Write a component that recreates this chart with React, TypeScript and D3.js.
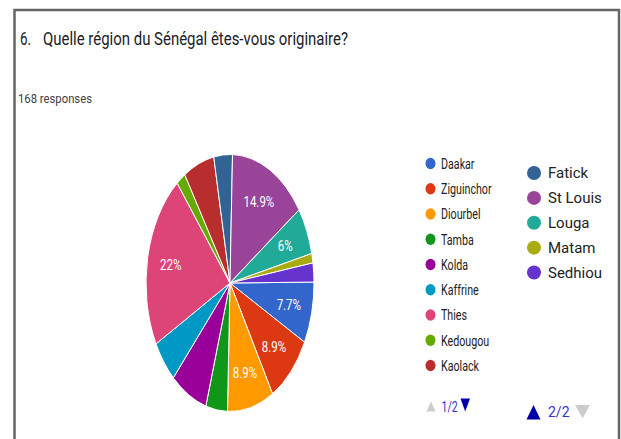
import React from "react";
import * as d3 from "d3";

const title = "Quelle région du Sénégal êtes-vous originaire?";
const questionNumber = "6.";
const subtitle = "168 responses";

const categories = [
  "Daakar", "Ziguinchor", "Diourbel", "Tamba", "Kolda", "Kaffrine", "Thies",
  "Kedougou", "Kaolack", "Fatick", "St Louis", "Louga", "Matam", "Sedhiou",
];
const counts = [13, 15, 15, 7, 12, 9, 37, 3, 10, 6, 25, 10, 2, 4];
const colors = [
  "#3366cc", "#dc3912", "#ff9900", "#109618", "#990099", "#0099c6", "#dd4477",
  "#66aa00", "#b82e2e", "#316395", "#994499", "#22aa99", "#aaaa11", "#6633cc",
];
const labeledSlices = ["Daakar", "Ziguinchor", "Diourbel", "Thies", "St Louis", "Louga"];
const pageOneCount = 9;
const pagerLabels = ["1/2", "2/2"];

const W = 621;
const H = 439;
const cx = 230;
const cy = 283;
const R = 84;
const SY = 128.5 / 84;

export default function App() {
  const data = categories.map((c, i) => ({ name: c, value: counts[i], color: colors[i] }));
  const total = d3.sum(counts);
  const start = (2 * Math.PI * d3.sum(counts.slice(pageOneCount + 1))) / total + 0.03;
  const pie = d3
    .pie<any>()
    .sort(null)
    .value((d: any) => d.value)
    .startAngle(start)
    .endAngle(start + 2 * Math.PI);
  const arcs = pie(data);
  const arc = d3.arc<any>().innerRadius(0).outerRadius(R);
  const labelArc = d3.arc<any>().innerRadius(R * 0.72).outerRadius(R * 0.72);
  const fmt = (v: number) => {
    const p = (v / total) * 100;
    return `${+p.toFixed(1)}%`;
  };

  const page1 = data.slice(0, pageOneCount);
  const page2 = data.slice(pageOneCount);
  const y1 = d3.scaleLinear().domain([0, 8]).range([163.5, 365.5]);
  const y2 = d3.scaleLinear().domain([0, 4]).range([173, 272.5]);

  const font = "Roboto, Arial, sans-serif";

  return (
    <svg
      width={W}
      height={H}
      style={{ position: "absolute", left: 0, top: 0, background: "#fff" }}
      fontFamily={font}
    >
      <rect x={0} y={0} width={W} height={H} fill="#fff" />
      <path d={`M14.5,${H} L14.5,10 L619,10 L619,${H}`} fill="none" stroke="#666" strokeWidth={2.5} />

      <text x={20} y={45} fontSize={17.5} fill="#202124" textLength={11} lengthAdjust="spacingAndGlyphs">
        {questionNumber}
      </text>
      <text x={43} y={45} fontSize={17.5} fill="#202124" textLength={305} lengthAdjust="spacingAndGlyphs">
        {title}
      </text>
      <text x={18} y={103} fontSize={12.5} fill="#3c4043" textLength={74} lengthAdjust="spacingAndGlyphs">
        {subtitle}
      </text>

      <g transform={`translate(${cx},${cy}) scale(1,${SY})`}>
        {arcs.map((a: any) => (
          <path
            key={a.data.name}
            d={arc(a) as string}
            fill={a.data.color}
            stroke="#fff"
            strokeWidth={1}
            vectorEffect="non-scaling-stroke"
          />
        ))}
      </g>
      <g transform={`translate(${cx},${cy})`}>
        {arcs
          .filter((a: any) => labeledSlices.includes(a.data.name))
          .map((a: any) => {
            const [lx, ly] = labelArc.centroid(a);
            return (
              <g key={a.data.name} transform={`translate(${lx},${ly * SY}) scale(1,1.3)`}>
                <text textAnchor="middle" dy="0.36em" fontSize={11.5} fill="#fff">
                  {fmt(a.data.value)}
                </text>
              </g>
            );
          })}
      </g>

      {page1.map((d, i) => (
        <g key={d.name} transform={`translate(0,${y1(i)})`}>
          <ellipse cx={430.5} cy={0} rx={5} ry={5.7} fill={d.color} />
          <g transform="translate(441,0) scale(1,1.38)">
            <text dy="0.36em" fontSize={10.7} fill="#222">
              {d.name}
            </text>
          </g>
        </g>
      ))}
      {page2.map((d, i) => (
        <g key={d.name} transform={`translate(0,${y2(i)})`}>
          <circle cx={534} cy={0} r={7} fill={d.color} />
          <text x={548} dy="0.36em" fontSize={15} fill="#222">
            {d.name}
          </text>
        </g>
      ))}

      <path d="M426.5,411.5 L431,401.5 L435.5,411.5 Z" fill="#cccccc" />
      <g transform="translate(441.5,406.5) scale(1,1.35)">
        <text dy="0.36em" fontSize={10.5} fill="#3333cc">
          {pagerLabels[0]}
        </text>
      </g>
      <path d="M460.5,398.5 L470,398.5 L465.2,411.5 Z" fill="#0000aa" />

      <path d="M526.5,419.5 L533.5,405 L540.5,419.5 Z" fill="#0000aa" />
      <text x={548} y={412} dy="0.36em" fontSize={14} fill="#3333cc">
        {pagerLabels[1]}
      </text>
      <path d="M575,405 L590,405 L582.5,418.5 Z" fill="#cccccc" />
    </svg>
  );
}
